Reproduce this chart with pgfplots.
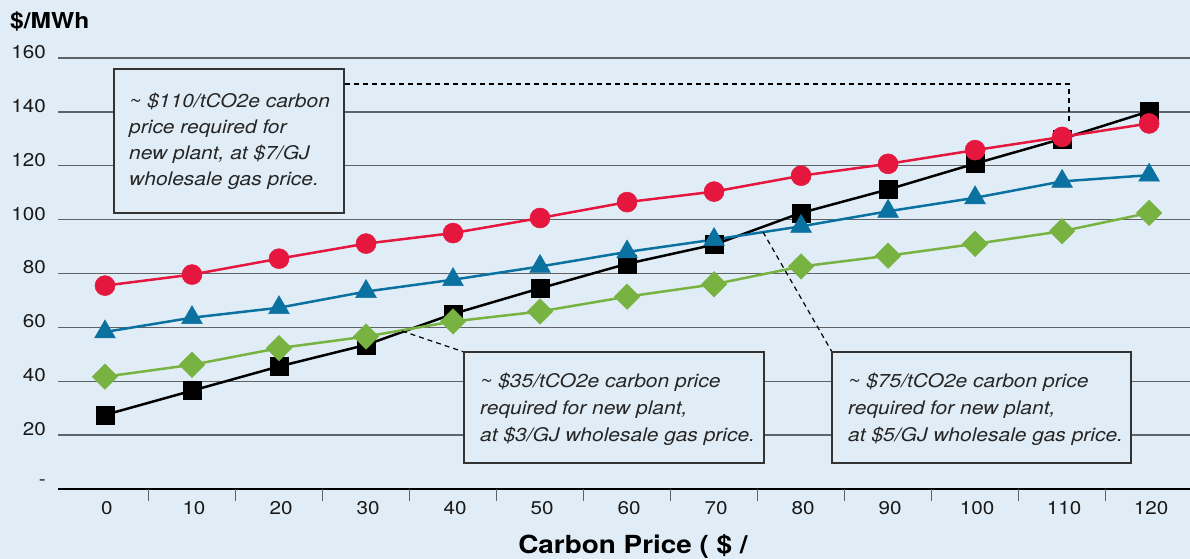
\documentclass[border=0pt]{standalone}
\usepackage{pgfplots}
\pgfplotsset{compat=1.18}
\usepackage{fontspec}
\setmainfont{TeX Gyre Heros}[FakeStretch=1.12]
\definecolor{bg}{HTML}{E1EDF6}
\definecolor{cred}{HTML}{E5173F}
\definecolor{cblue}{HTML}{0A71A0}
\definecolor{cgreen}{HTML}{78B241}
\definecolor{gridc}{HTML}{5F6366}
\definecolor{boxc}{HTML}{333333}
\newcommand{\boxfont}{\itshape\fontsize{18.8}{26}\selectfont}
\begin{document}
\begin{tikzpicture}
\useasboundingbox (0,0) rectangle (1190bp,559bp);
\fill[bg] (0,0) rectangle (1190bp,559bp);
\begin{axis}[
  at={(58bp,70bp)}, anchor=south west, scale only axis,
  width=1132bp, height=431bp,
  xmin=-5.4, xmax=124.7, ymin=0, ymax=160,
  axis lines=left, axis line style={-},
  y axis line style={draw=none},
  x axis line style={black, line width=1.5bp},
  ytick={0,20,...,160}, yticklabels={-,20,40,60,80,100,120,140,160},
  xtick={0,10,...,120},
  major tick length=0pt,
  ymajorgrids, grid style={gridc, line width=1.4bp},
  extra x ticks={5,15,...,115}, extra x tick labels={},
  extra x tick style={major tick length=12bp, tick align=outside, grid=none, tick style={gridc, line width=1.2bp}},
  /pgf/number format/assume math mode=true,
  tick label style={font=\fontsize{18.5}{20}\selectfont, text=black!90},
  yticklabel style={anchor=east, inner sep=0pt, xshift=-12bp, yshift=6bp},
  xticklabel style={anchor=center, inner sep=0pt, yshift=-19bp, xshift=2bp},
  clip=false,
  ylabel={\$/MWh},
  every axis y label/.style={at={(rel axis cs:0,1)}, anchor=base west, inner sep=0pt, xshift=-48bp, yshift=29.7bp, font=\bfseries\fontsize{22}{24}\selectfont},
  xlabel={Carbon Price ( \$ /},
  every axis x label/.style={at={(rel axis cs:0.5,0)}, anchor=base, inner sep=0pt, xshift=9bp, yshift=-64bp, font=\bfseries\fontsize{25}{28}\selectfont},
]
\addplot[black, line width=2.5bp, mark=square*, mark size=9bp, mark options={solid, line width=0.5bp}] coordinates {
(0,27.5)(10,36.5)(20,45.5)(30,53.5)(40,65)(50,74.5)(60,83.6)(70,90.7)(80,102.5)(90,111.2)(100,120.8)(110,130)(120,140.2)};
\addplot[cblue, line width=2.5bp, mark=triangle*, mark size=12bp, mark options={solid, line width=0.5bp}] coordinates {
(0,58.3)(10,63.6)(20,67.3)(30,73.3)(40,77.7)(50,82.6)(60,88)(70,92.6)(80,97.5)(90,103.1)(100,108.1)(110,114.2)(120,116.5)};
\addplot[cgreen, line width=2.5bp, mark=square*, mark size=9bp, mark options={solid, line width=0.5bp, rotate=45}] coordinates {
(0,41.7)(10,46.1)(20,52.3)(30,56.6)(40,62.2)(50,65.9)(60,71.4)(70,76)(80,82.6)(90,86.6)(100,91)(110,95.7)(120,102.5)};
\addplot[cred, line width=2.5bp, mark=*, mark size=10bp, mark options={solid, line width=0.5bp}] coordinates {
(0,75.5)(10,79.6)(20,85.5)(30,91.1)(40,95)(50,100.6)(60,106.5)(70,110.4)(80,116.3)(90,120.7)(100,125.8)(110,130.7)(120,135.7)};
\end{axis}
\begin{scope}[x=1bp, y=-1bp, yshift=559bp]
\draw[black, line width=1.2bp, dash pattern=on 5bp off 4bp] (345,84) -- (1069,84) -- (1069,122);
\draw[black, line width=1.2bp, dash pattern=on 5bp off 4bp] (402,331) -- (464,352);
\draw[black, line width=1.2bp, dash pattern=on 5bp off 4bp] (763,232) -- (832,352);
\filldraw[fill=bg, draw=boxc, line width=1.4bp] (114,69) rectangle (344,213);
\filldraw[fill=bg, draw=boxc, line width=1.4bp] (464,352) rectangle (764,463);
\filldraw[fill=bg, draw=boxc, line width=1.4bp] (832,352) rectangle (1131,463);
\begin{scope}[every node/.style={anchor=base west, inner sep=0pt, font=\boxfont, text=black!85}]
\node at (129,107.5) {\textasciitilde{} \$110/tCO2e carbon};
\node at (129,133.7) {price required for};
\node at (129,160) {new plant, at \$7/GJ};
\node at (129,186) {wholesale gas price.};
\node at (480,388) {\textasciitilde{} \$35/tCO2e carbon price};
\node at (480,415) {required for new plant,};
\node at (480,441.5) {at \$3/GJ wholesale gas price.};
\node at (848,388) {\textasciitilde{} \$75/tCO2e carbon price};
\node at (848,415) {required for new plant,};
\node at (848,441.5) {at \$5/GJ wholesale gas price.};
\end{scope}
\end{scope}
\end{tikzpicture}
\end{document}
